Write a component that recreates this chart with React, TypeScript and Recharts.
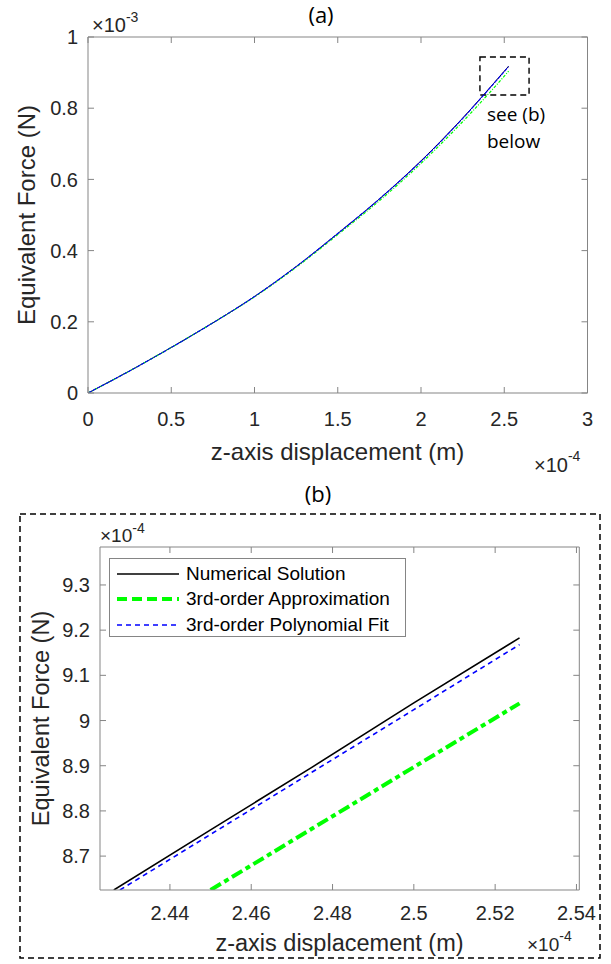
import { Legend, Line, LineChart, ReferenceArea, XAxis, YAxis } from "recharts";

// (a) full range, x in units of 1e-4 m, force in units of 1e-3 N
const FULL_X = [0, 0.25, 0.5, 0.75, 1, 1.25, 1.5, 1.75, 2, 2.25, 2.5, 2.526];
const FULL_NUMERICAL = [0, 0.062, 0.128, 0.197, 0.271, 0.355, 0.448, 0.545, 0.652, 0.772, 0.904, 0.918];
const FULL_APPROX = [0, 0.062, 0.128, 0.197, 0.27, 0.353, 0.445, 0.54, 0.645, 0.762, 0.89, 0.904];
const FULL_POLY = [0, 0.062, 0.128, 0.197, 0.271, 0.355, 0.448, 0.545, 0.651, 0.771, 0.903, 0.917];

// (b) zoomed range, x in units of 1e-4 m, force in units of 1e-4 N
const ZOOM_NUM_X = [2.4262, 2.45, 2.475, 2.5, 2.526];
const ZOOM_NUM_Y = [8.625, 8.758, 8.897, 9.039, 9.183];
const ZOOM_APPROX_X = [2.45, 2.475, 2.5, 2.526];
const ZOOM_APPROX_Y = [8.625, 8.761, 8.897, 9.038];
const ZOOM_POLY_X = [2.4277, 2.45, 2.475, 2.5, 2.526];
const ZOOM_POLY_Y = [8.625, 8.748, 8.886, 9.024, 9.168];

const SERIES_NAMES = ["Numerical Solution", "3rd-order Approximation", "3rd-order Polynomial Fit"];

const X_TICKS_A = [0, 0.5, 1, 1.5, 2, 2.5, 3];
const Y_TICKS_A = [0, 0.2, 0.4, 0.6, 0.8, 1];
const X_TICKS_B = [2.44, 2.46, 2.48, 2.5, 2.52, 2.54];
const Y_TICKS_B = [8.7, 8.8, 8.9, 9, 9.1, 9.2, 9.3];

// dashed box marking the zoomed region in (a)
const ZOOM_BOX = { x1: 2.354, x2: 2.649, y1: 0.837, y2: 0.944 };

const fullData = FULL_X.map((x, i) => ({
  x,
  numerical: FULL_NUMERICAL[i],
  approx: FULL_APPROX[i],
  poly: FULL_POLY[i],
}));
const toPoints = (xs: number[], ys: number[]) => xs.map((x, i) => ({ x, y: ys[i] }));
const zoomNumerical = toPoints(ZOOM_NUM_X, ZOOM_NUM_Y);
const zoomApprox = toPoints(ZOOM_APPROX_X, ZOOM_APPROX_Y);
const zoomPoly = toPoints(ZOOM_POLY_X, ZOOM_POLY_Y);

const FONT = "'Liberation Sans', Arial, sans-serif";
const NOTE_FONT = "'Open Sans', sans-serif";
const TEXT = "#262626";
const AXIS = "#858585";

type LineStyle = { color: string; width: number; dash?: string; legendDash?: string };
const STYLE: Record<string, LineStyle> = {
  [SERIES_NAMES[0]]: { color: "#000000", width: 1.6 },
  [SERIES_NAMES[1]]: { color: "#00ff00", width: 4, dash: "12 4 5 4", legendDash: "10 5" },
  [SERIES_NAMES[2]]: { color: "#0000ff", width: 1.6, dash: "5 4" },
};

const tickStyle = { fill: TEXT, fontSize: 20, fontFamily: FONT };

function ZoomLegend({ payload }: any) {
  const names: string[] = (payload || []).map((p: any) => p.value);
  const ordered = SERIES_NAMES.filter((n) => names.includes(n));
  return (
    <div
      style={{
        width: 297,
        height: 79,
        boxSizing: "border-box",
        border: `1px solid ${AXIS}`,
        background: "#fff",
        paddingTop: 2,
        fontFamily: FONT,
        fontSize: 19,
        color: "#000",
      }}
    >
      {ordered.map((name) => {
        const s = STYLE[name];
        return (
          <div key={name} style={{ display: "flex", alignItems: "center", height: 25.5 }}>
            <svg width={76} height={12} style={{ flex: "none" }}>
              <line
                x1={7}
                x2={69}
                y1={6}
                y2={6}
                stroke={s.color}
                strokeWidth={s.width}
                strokeDasharray={s.legendDash || s.dash}
              />
            </svg>
            <span style={{ lineHeight: "20px" }}>{name}</span>
          </div>
        );
      })}
    </div>
  );
}

function Overlay() {
  return (
    <svg
      width={611}
      height={964}
      style={{ position: "absolute", left: 0, top: 0, pointerEvents: "none" }}
    >
      <g fill={TEXT} fontFamily={FONT}>
        {/* (a) */}
        <text x={321} y={23} fontSize={22} fontFamily={NOTE_FONT} textAnchor="middle" fill="#000">
          (a)
        </text>
        <text x={92} y={32} fontSize={20}>
          ×10<tspan dy={-10} fontSize={14}>-3</tspan>
        </text>
        <text x={337.5} y={460} fontSize={24} textAnchor="middle">
          z-axis displacement (m)
        </text>
        <text transform="translate(35,215) rotate(-90)" fontSize={24} textAnchor="middle">
          Equivalent Force (N)
        </text>
        <text x={534} y={472} fontSize={20}>
          ×10<tspan dy={-11} fontSize={14}>-4</tspan>
        </text>
        <text x={487} y={121} fontSize={19} fontFamily={NOTE_FONT} fill="#000">
          see (b)
        </text>
        <text x={487} y={148} fontSize={19} fontFamily={NOTE_FONT} fill="#000">
          below
        </text>

        {/* (b) */}
        <text x={318} y={502} fontSize={22} fontFamily={NOTE_FONT} textAnchor="middle" fill="#000">
          (b)
        </text>
        <text x={100} y={542} fontSize={19}>
          ×10<tspan dy={-9} fontSize={14}>-4</tspan>
        </text>
        <text x={339.5} y={951} fontSize={23.5} textAnchor="middle">
          z-axis displacement (m)
        </text>
        <text transform="translate(49,718.5) rotate(-90)" fontSize={23.5} textAnchor="middle">
          Equivalent Force (N)
        </text>
        <text x={527} y={951} fontSize={19}>
          ×10<tspan dy={-10} fontSize={14}>-4</tspan>
        </text>
      </g>
      <rect
        x={20}
        y={514}
        width={580}
        height={444}
        fill="none"
        stroke="#000"
        strokeWidth={1.5}
        strokeDasharray="6 4"
      />
    </svg>
  );
}

function FullChart() {
  return (
    <LineChart
      width={611}
      height={480}
      data={fullData}
      margin={{ top: 36, right: 22.5, left: 28, bottom: 47 }}
    >
      <XAxis
        xAxisId="main"
        dataKey="x"
        type="number"
        domain={[0, 3]}
        ticks={X_TICKS_A}
        interval={0}
        allowDataOverflow
        height={40}
        tickSize={-6}
        tickMargin={25}
        stroke={AXIS}
        tick={tickStyle}
      />
      <XAxis
        xAxisId="top"
        orientation="top"
        dataKey="x"
        type="number"
        domain={[0, 3]}
        ticks={X_TICKS_A}
        interval={0}
        allowDataOverflow
        height={1}
        tickSize={-6}
        tickFormatter={() => ""}
        stroke={AXIS}
      />
      <YAxis
        yAxisId="main"
        type="number"
        domain={[0, 1]}
        ticks={Y_TICKS_A}
        interval={0}
        allowDataOverflow
        width={60}
        tickSize={-6}
        tickMargin={16}
        stroke={AXIS}
        tick={tickStyle}
      />
      <YAxis
        yAxisId="right"
        orientation="right"
        type="number"
        domain={[0, 1]}
        ticks={Y_TICKS_A}
        interval={0}
        allowDataOverflow
        width={1}
        tickSize={-6}
        tickFormatter={() => ""}
        stroke={AXIS}
      />
      <Line
        xAxisId="main"
        yAxisId="main"
        type="monotone"
        dataKey="numerical"
        stroke="#000"
        strokeWidth={1}
        dot={false}
        isAnimationActive={false}
      />
      <Line
        xAxisId="main"
        yAxisId="main"
        type="monotone"
        dataKey="approx"
        stroke="#00ff00"
        strokeWidth={1.2}
        strokeDasharray="3 1.5 1 1.5"
        dot={false}
        isAnimationActive={false}
      />
      <Line
        xAxisId="main"
        yAxisId="main"
        type="monotone"
        dataKey="poly"
        stroke="#0000ff"
        strokeWidth={1.1}
        strokeDasharray="4 1"
        dot={false}
        isAnimationActive={false}
      />
      <ReferenceArea
        xAxisId="main"
        yAxisId="main"
        x1={ZOOM_BOX.x1}
        x2={ZOOM_BOX.x2}
        y1={ZOOM_BOX.y1}
        y2={ZOOM_BOX.y2}
        fill="none"
        fillOpacity={0}
        stroke="#000"
        strokeWidth={1.4}
        strokeDasharray="6 4"
        ifOverflow="visible"
      />
    </LineChart>
  );
}

function ZoomChart() {
  const lines = [
    { name: SERIES_NAMES[0], data: zoomNumerical },
    { name: SERIES_NAMES[1], data: zoomApprox },
    { name: SERIES_NAMES[2], data: zoomPoly },
  ];
  return (
    <LineChart width={611} height={484} margin={{ top: 66, right: 30.7, left: 40, bottom: 34 }}>
      <XAxis
        xAxisId="main"
        dataKey="x"
        type="number"
        domain={[2.4228, 2.5407]}
        ticks={X_TICKS_B}
        interval={0}
        allowDataOverflow
        height={40}
        tickSize={-6}
        tickMargin={22}
        stroke={AXIS}
        tick={tickStyle}
      />
      <XAxis
        xAxisId="top"
        orientation="top"
        dataKey="x"
        type="number"
        domain={[2.4228, 2.5407]}
        ticks={X_TICKS_B}
        interval={0}
        allowDataOverflow
        height={1}
        tickSize={-6}
        tickFormatter={() => ""}
        stroke={AXIS}
      />
      <YAxis
        yAxisId="main"
        dataKey="y"
        type="number"
        domain={[8.625, 9.384]}
        ticks={Y_TICKS_B}
        interval={0}
        allowDataOverflow
        width={60}
        tickSize={-6}
        tickMargin={16}
        stroke={AXIS}
        tick={tickStyle}
      />
      <YAxis
        yAxisId="right"
        orientation="right"
        dataKey="y"
        type="number"
        domain={[8.625, 9.384]}
        ticks={Y_TICKS_B}
        interval={0}
        allowDataOverflow
        width={1}
        tickSize={-6}
        tickFormatter={() => ""}
        stroke={AXIS}
      />
      <Legend
        layout="vertical"
        align="center"
        verticalAlign="middle"
        wrapperStyle={{ left: 109, top: 78, width: 297, height: 79 }}
        content={<ZoomLegend />}
      />
      {lines.map((l) => (
        <Line
          key={l.name}
          xAxisId="main"
          yAxisId="main"
          data={l.data}
          dataKey="y"
          name={l.name}
          type="linear"
          stroke={STYLE[l.name].color}
          strokeWidth={STYLE[l.name].width}
          strokeDasharray={STYLE[l.name].dash}
          dot={false}
          isAnimationActive={false}
        />
      ))}
    </LineChart>
  );
}

export default function App() {
  return (
    <div style={{ position: "absolute", left: 0, top: 0, width: 611, height: 964, background: "#fff" }}>
      <div style={{ position: "absolute", left: 0, top: 0 }}>
        <FullChart />
      </div>
      <div style={{ position: "absolute", left: 0, top: 480 }}>
        <ZoomChart />
      </div>
      <Overlay />
    </div>
  );
}
